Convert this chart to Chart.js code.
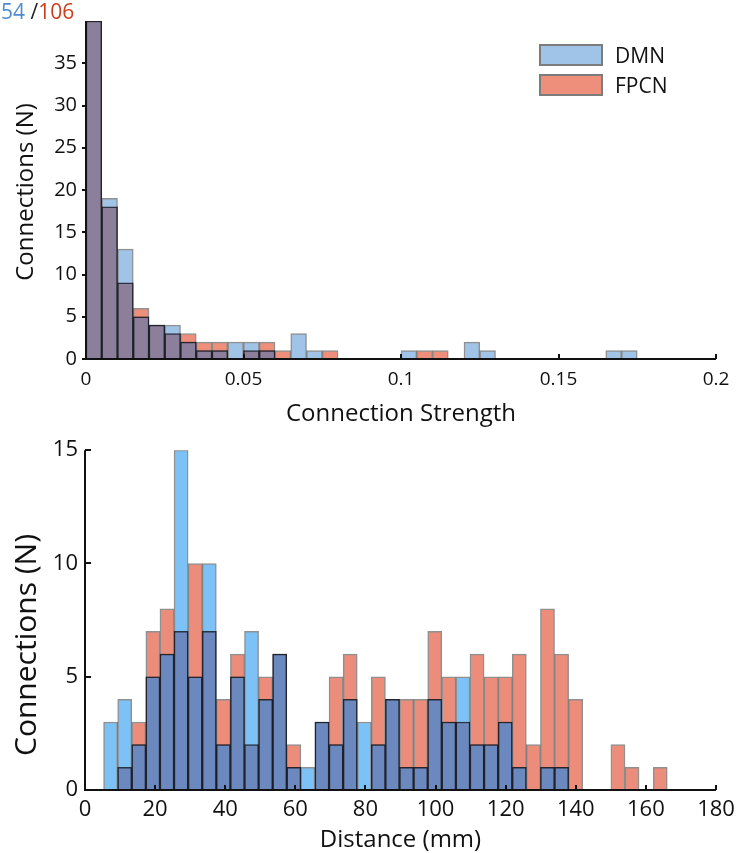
<!DOCTYPE html>
<html>
<head>
<meta charset="utf-8">
<script src="https://cdn.jsdelivr.net/npm/chart.js@4/dist/chart.umd.min.js"></script>
<style>
  body { margin: 0; background: #fff; font-family: 'Open Sans', sans-serif; }
  #wrap { position: relative; width: 744px; height: 853px; overflow: hidden; }
  canvas { position: absolute; left: 0; }
  #topChart { top: 0; }
  #bottomChart { top: 430px; }
  #count { position: absolute; left: 1px; top: -3px; font-size: 21px; color: #222; }
  #count .dmn { color: #4f8ccb; }
  #count .fpcn { color: #c9401f; }
  #legend { position: absolute; left: 539px; top: 40px; font-size: 21px; color: #111; }
  #legend div { height: 30px; display: flex; align-items: center; }
  #legend span.box { display: inline-block; width: 60px; height: 18px; border: 2px solid #7c7c7c; margin-right: 12px; }
</style>
</head>
<body>
<div id="wrap">
  <canvas id="topChart" width="744" height="430"></canvas>
  <canvas id="bottomChart" width="744" height="423"></canvas>
  <div id="count"><span class="dmn">54</span> /<span class="fpcn">106</span></div>
  <div id="legend">
    <div><span class="box" style="background:#9fc4e7"></span>DMN</div>
    <div><span class="box" style="background:#ee8f7b"></span>FPCN</div>
  </div>
</div>
<script>
// Connection strength histogram (bin width 0.005, starting at 0)
const strengthBinStart = 0;
const strengthBinWidth = 0.005;
const strengthDMN = [40, 19, 13, 5, 4, 4, 2, 1, 1, 2, 2, 1, 0, 3, 1, 0, 0, 0, 0, 0,
                     1, 0, 0, 0, 2, 1, 0, 0, 0, 0, 0, 0, 0, 1, 1];
const strengthFPCN = [40, 18, 9, 6, 4, 3, 3, 2, 2, 0, 1, 2, 1, 0, 0, 1, 0, 0, 0, 0,
                      0, 1, 1, 0, 0, 0, 0, 0, 0, 0, 0, 0, 0, 0, 0];

// Distance histogram (mm)
const distBinStart = 5.3;
const distBinWidth = 4.02;
const distDMN = [3, 4, 2, 5, 6, 15, 5, 10, 2, 5, 7, 4, 6, 1, 1, 3, 2, 4, 3, 2,
                 4, 1, 1, 4, 3, 5, 2, 2, 3, 1, 0, 1, 1, 0, 0, 0, 0, 0, 0, 0];
const distFPCN = [0, 1, 3, 7, 8, 7, 10, 7, 4, 6, 2, 5, 6, 2, 0, 3, 5, 6, 0, 5,
                  4, 4, 4, 7, 5, 3, 6, 5, 5, 6, 2, 8, 6, 4, 0, 0, 2, 1, 0, 1];

const FONT = "'Open Sans', sans-serif";

function toPoints(start, width, values) {
  return values.map((v, i) => ({ x: start + width * (i + 0.5), y: v }));
}

function overlap(a, b) {
  return a.map((v, i) => Math.min(v, b[i]));
}

// axis lines + inward/outward ticks + y title, drawn like the MATLAB figure
const axisLines = {
  id: 'axisLines',
  afterDatasetsDraw(chart, args, opts) {
    const { ctx, chartArea: a, scales: { x, y } } = chart;
    ctx.save();
    ctx.strokeStyle = '#111';
    ctx.lineWidth = 2;
    ctx.beginPath();
    ctx.moveTo(a.left, a.top);
    ctx.lineTo(a.left, a.bottom);
    ctx.lineTo(a.right, a.bottom);
    x.ticks.forEach(t => {
      const px = Math.round(x.getPixelForValue(t.value));
      ctx.moveTo(px, a.bottom);
      ctx.lineTo(px, a.bottom - opts.xTick);
    });
    y.ticks.forEach(t => {
      if (t.value > opts.yLabelMax) return;
      const py = Math.round(y.getPixelForValue(t.value));
      ctx.moveTo(a.left, py);
      ctx.lineTo(a.left + opts.yTick, py);
    });
    ctx.stroke();

    // y title (placed by hand, not centred on the axis)
    ctx.translate(opts.titleX, opts.titleY);
    ctx.rotate(-Math.PI / 2);
    ctx.fillStyle = '#111';
    ctx.font = opts.titleSize + 'px ' + FONT;
    ctx.textAlign = 'center';
    ctx.textBaseline = 'middle';
    ctx.fillText('Connections (N)', 0, 0);
    ctx.restore();
  }
};

function makeChart(id, cfg) {
  const pts = (vals) => toPoints(cfg.start, cfg.width, vals);
  return new Chart(document.getElementById(id), {
    type: 'bar',
    data: {
      datasets: [
        {
          label: 'overlap',
          data: pts(overlap(cfg.dmn, cfg.fpcn)),
          backgroundColor: cfg.colors.both,
          borderColor: 'rgba(25,25,35,0.85)',
          borderWidth: 1.5
        },
        {
          label: 'DMN',
          data: pts(cfg.dmn),
          backgroundColor: cfg.colors.dmn,
          borderColor: 'rgba(70,70,70,0.6)',
          borderWidth: 1.5
        },
        {
          label: 'FPCN',
          data: pts(cfg.fpcn),
          backgroundColor: cfg.colors.fpcn,
          borderColor: 'rgba(70,70,70,0.6)',
          borderWidth: 1.5
        }
      ]
    },
    options: {
      responsive: false,
      animation: false,
      devicePixelRatio: 1,
      layout: { padding: { left: 0, right: 28, top: 14, bottom: 0 } },
      datasets: {
        bar: { grouped: false, barPercentage: 1, categoryPercentage: 1, borderSkipped: 'start' }
      },
      plugins: {
        legend: { display: false },
        tooltip: { enabled: false },
        axisLines: cfg.axis
      },
      scales: {
        x: {
          type: 'linear',
          offset: false,
          min: cfg.xMin,
          max: cfg.xMax,
          grid: { display: false, drawTicks: false, offset: false },
          border: { display: false },
          ticks: {
            stepSize: cfg.xStep, padding: cfg.xTickPad, color: '#111', font: { family: FONT, size: cfg.xTickSize },
            callback: (v) => String(Number(v.toFixed(4)))
          },
          title: { display: true, text: cfg.xTitle, color: '#111', padding: { top: 0, bottom: cfg.xTitlePad }, font: { family: FONT, size: cfg.xTitleSize, lineHeight: 1.1 } },
          afterFit: (s) => { s.height = cfg.xHeight; }
        },
        y: {
          min: 0,
          max: cfg.yMax,
          grid: { display: false, drawTicks: false },
          border: { display: false },
          ticks: {
            stepSize: 5, padding: cfg.yTickPad, color: '#111', font: { family: FONT, size: cfg.yTickSize },
            callback: (v) => (v > cfg.axis.yLabelMax ? '' : v)
          },
          afterFit: (s) => { s.width = cfg.yWidth; }
        }
      }
    },
    plugins: [axisLines]
  });
}

makeChart('topChart', {
  start: strengthBinStart, width: strengthBinWidth,
  dmn: strengthDMN, fpcn: strengthFPCN,
  colors: { dmn: '#9fc4e7', fpcn: '#ee8f7b', both: '#8c7f9b' },
  xMin: 0, xMax: 0.2, xStep: 0.05, yMax: 40,
  xTitle: 'Connection Strength',
  xTickSize: 19, xTickPad: 9, xTitleSize: 24, xTitlePad: 3, xHeight: 71,
  yTickSize: 20, yTickPad: 9, yWidth: 86,
  axis: { xTick: 5, yTick: -4, yLabelMax: 35, titleX: 26, titleY: 192, titleSize: 24 }
});

makeChart('bottomChart', {
  start: distBinStart, width: distBinWidth,
  dmn: distDMN, fpcn: distFPCN,
  colors: { dmn: '#7cc2f7', fpcn: '#ec8c7a', both: '#6b89bf' },
  xMin: 0, xMax: 180, xStep: 20, yMax: 15,
  xTitle: 'Distance (mm)',
  xTickSize: 22, xTickPad: 7, xTitleSize: 24, xTitlePad: 0, xHeight: 63,
  yTickSize: 22, yTickPad: 7, yWidth: 85,
  axis: { xTick: 5, yTick: 6, yLabelMax: 15, titleX: 27, titleY: 215, titleSize: 30 }
});
</script>
</body>
</html>
